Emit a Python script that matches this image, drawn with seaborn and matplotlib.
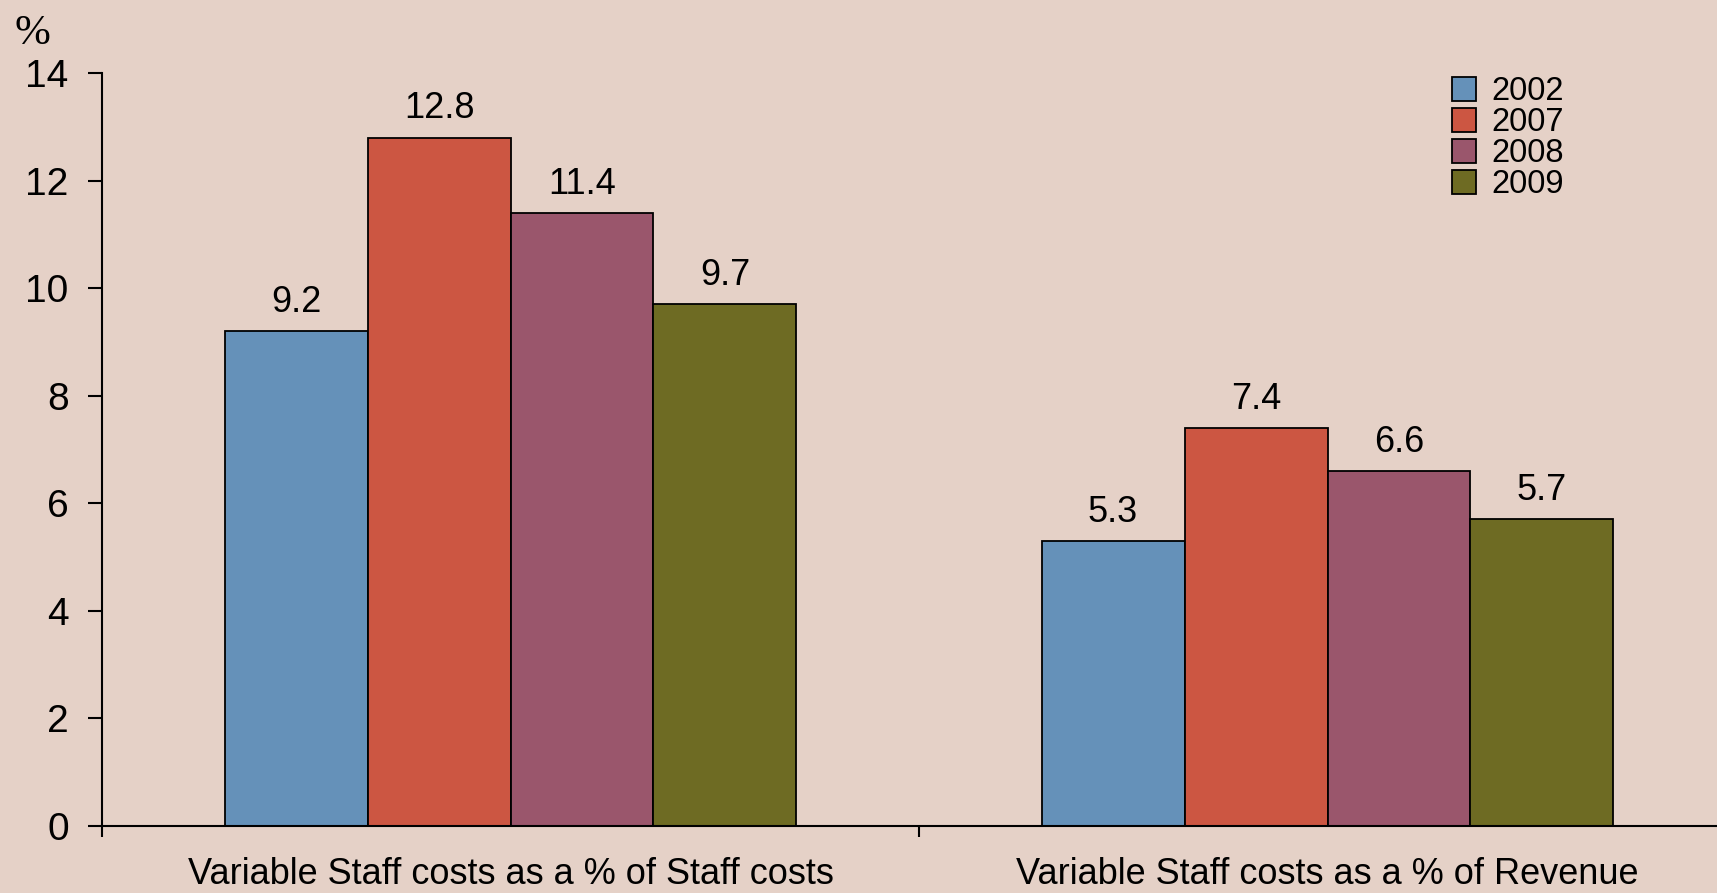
import pandas as pd
import numpy as np

import seaborn as sns
import matplotlib.pyplot as plt

categories = ['Variable Staff costs as a % of Staff costs',
              'Variable Staff costs as a % of Revenue']
years = ['2002', '2007', '2008', '2009']
values_2002 = [9.2, 5.3]
values_2007 = [12.8, 7.4]
values_2008 = [11.4, 6.6]
values_2009 = [9.7, 5.7]
colors = ['#6591B9', '#CC5642', '#9A566C', '#6E6B23']

rows = []
for yr, vals in zip(years, [values_2002, values_2007, values_2008, values_2009]):
    for cat, v in zip(categories, vals):
        rows.append({'category': cat, 'year': yr, 'value': v})
df = pd.DataFrame(rows)

bg = '#E5D1C7'
sns.set_style('white')
plt.rcParams['font.family'] = ['Liberation Sans', 'DejaVu Sans']
plt.rcParams['text.color'] = 'black'
plt.rcParams['xtick.color'] = 'black'
plt.rcParams['ytick.color'] = 'black'
plt.rcParams['xtick.labelcolor'] = 'black'
plt.rcParams['ytick.labelcolor'] = 'black'

fig = plt.figure(figsize=(17.17, 8.93), dpi=100, facecolor=bg)
ax = fig.add_axes([102 / 1717, 1 - 826 / 893, (1736 - 102) / 1717, (826 - 73) / 893])
ax.set_facecolor(bg)

sns.barplot(data=df, x='category', y='value', hue='year', palette=colors,
            saturation=1, width=0.7, edgecolor='black', linewidth=1.3, ax=ax)

for cont in ax.containers:
    ax.bar_label(cont, fmt='%.1f', padding=8, fontsize=26, color='black')

ax.set_ylim(0, 14)
ax.set_xlim(-0.5, 1.5)
ax.set_yticks(np.arange(0, 15, 2))
ax.tick_params(axis='y', direction='out', length=10, width=1.5, pad=14,
               labelsize=28, left=True)
ax.set_xticks([0, 1])
ax.set_xticklabels(categories, fontsize=26)
ax.tick_params(axis='x', which='major', length=0, pad=22)
ax.set_xticks([-0.5, 0.5, 1.5], minor=True)
ax.tick_params(axis='x', which='minor', direction='out', length=8, width=1.5, bottom=True)
ax.set_xlabel('')
ax.set_ylabel('')

sns.despine(ax=ax)
for s in ['left', 'bottom']:
    ax.spines[s].set_color('black')
    ax.spines[s].set_linewidth(1.5)

ax.legend(loc='upper left', bbox_to_anchor=(1452 / 1717, 1 - 76 / 893),
          bbox_transform=fig.transFigure, frameon=False, fontsize=23.5,
          handlelength=0.75, handleheight=0.75, labelspacing=0.0,
          handletextpad=0.45, borderaxespad=0, borderpad=0)

fig.text(14 / 1717, 1 - 44 / 893, '%', family=['Liberation Serif', 'DejaVu Serif'],
         fontsize=31)

fig.savefig('out.png', dpi=100, facecolor=bg)
